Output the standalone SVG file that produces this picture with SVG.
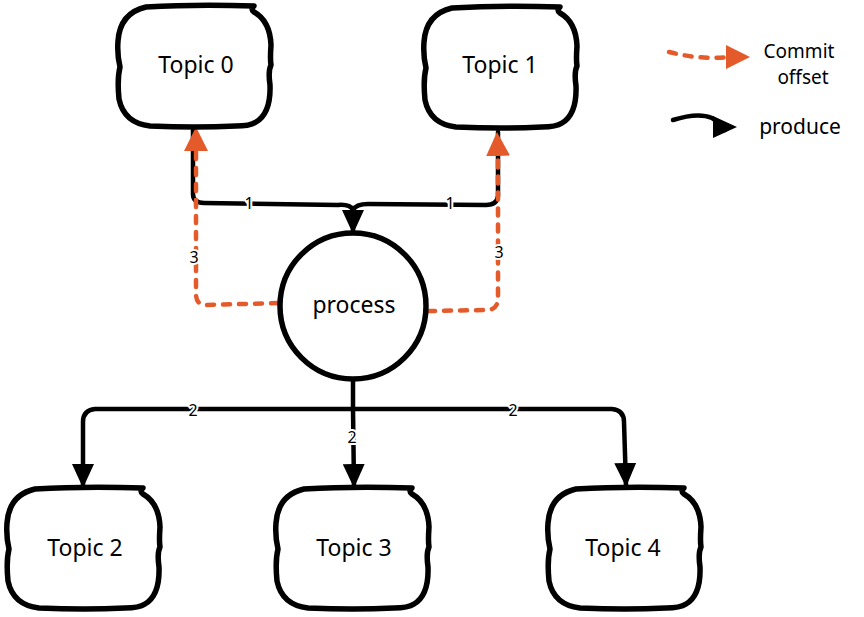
<svg xmlns="http://www.w3.org/2000/svg" xmlns:xlink="http://www.w3.org/1999/xlink" width="864" height="617" viewBox="0 0 864 617">
<style>
.box{fill:#fff;stroke:#000;stroke-width:5.5;stroke-linejoin:round;stroke-linecap:round}
.t{font-family:"Noto Sans","DejaVu Sans",sans-serif;font-size:23px;fill:#000;text-anchor:middle}
.lg{font-family:"Noto Sans","DejaVu Sans",sans-serif;font-size:19px;fill:#000;text-anchor:middle}
.lbl{font-family:"Noto Sans","DejaVu Sans",sans-serif;font-size:16px;fill:#000;text-anchor:middle;stroke:#fff;stroke-width:4;paint-order:stroke}
.blk{fill:none;stroke:#000;stroke-width:4.5;stroke-linecap:round;stroke-linejoin:round}
.org{fill:none;stroke:#e45a2a;stroke-width:4.5;stroke-linecap:round;stroke-dasharray:7 9}
</style>
<defs>
<path id="blob" d="M 30 2 Q 80 -1 138 1 Q 134 4 138 7 Q 154 16 155 40 Q 154 54 155 60 Q 152 66 154 80 Q 155 108 140 117 Q 134 121 120 121 Q 80 123 34 121 Q 8 118 3 94 Q 1 74 4 62 Q 1 50 2 36 Q 4 8 30 2 Z"/>
<marker id="ab" markerUnits="userSpaceOnUse" markerWidth="24" markerHeight="22" refX="23" refY="11" orient="auto" viewBox="0 0 24 22">
<path d="M0 0 L24 11 L0 22 Z" fill="#000"/>
</marker>
<marker id="ao" markerUnits="userSpaceOnUse" markerWidth="24" markerHeight="24" refX="23" refY="12" orient="auto" viewBox="0 0 24 24">
<path d="M0 0 L24 12 L0 24 Z" fill="#e45a2a"/>
</marker>
</defs>

<g id="connectors">
<path class="blk" d="M 193 130 L 193 194 Q 193 203 204 203 L 338 205 Q 350 204 353 210"/>
<path class="blk" d="M 498 132 L 498 196 Q 497 205 486 205 L 368 204 Q 356 204 353 210"/>
<path class="blk" d="M 353 208 L 353 233" marker-end="url(#ab)"/>
<path class="org" d="M 278 303 L 206 305 Q 196 305 196 294 L 196 150"/>
<path d="M 196 152 L 196 128" stroke="none" fill="none" marker-end="url(#ao)"/>
<path class="org" d="M 428 311 L 488 310 Q 498 309 498 298 L 498 155"/>
<path d="M 498 156 L 497 133" stroke="none" fill="none" marker-end="url(#ao)"/>
<path class="blk" d="M 353 380 L 353 409"/>
<path class="blk" d="M 353 409 L 95 409 Q 83 410 83 422 L 83 487" marker-end="url(#ab)"/>
<path class="blk" d="M 353 409 L 354 487" marker-end="url(#ab)"/>
<path class="blk" d="M 353 409 L 612 409 Q 624 410 624 422 L 626 486" marker-end="url(#ab)"/>
<text class="lbl" x="249" y="209">1</text>
<text class="lbl" x="450" y="209">1</text>
<text class="lbl" x="194" y="263">3</text>
<text class="lbl" x="499" y="258">3</text>
<text class="lbl" x="193" y="416">2</text>
<text class="lbl" x="352" y="443">2</text>
<text class="lbl" x="513" y="416">2</text>
</g>

<g id="topic0"><use xlink:href="#blob" class="box" transform="translate(116,5)"/><text class="t" x="196" y="73">Topic 0</text></g>
<g id="topic1"><use xlink:href="#blob" class="box" transform="translate(422,6)"/><text class="t" x="500" y="73">Topic 1</text></g>
<g id="process"><circle class="box" cx="353" cy="306" r="73"/><text class="t" x="354" y="313">process</text></g>
<g id="topic2"><use xlink:href="#blob" class="box" transform="translate(5,487)"/><text class="t" x="85" y="556">Topic 2</text></g>
<g id="topic3"><use xlink:href="#blob" class="box" transform="translate(274,487)"/><text class="t" x="354" y="556">Topic 3</text></g>
<g id="topic4"><use xlink:href="#blob" class="box" transform="translate(546,487)"/><text class="t" x="623" y="556">Topic 4</text></g>

<g id="legend">
<path class="org" d="M 669 52 Q 700 60 728 57"/>
<path d="M 726 57 L 749 57" stroke="none" fill="none" marker-end="url(#ao)"/>
<path class="blk" d="M 673 120 Q 698 112 712 118 Q 722 124 725 130"/>
<path d="M 720 127 L 736 127" stroke="none" fill="none" marker-end="url(#ab)"/>
<text class="lg" x="799" y="58">Commit</text>
<text class="lg" x="803" y="84">offset</text>
<text class="lg" x="800" y="134" style="font-size:21px">produce</text>
</g>
</svg>
